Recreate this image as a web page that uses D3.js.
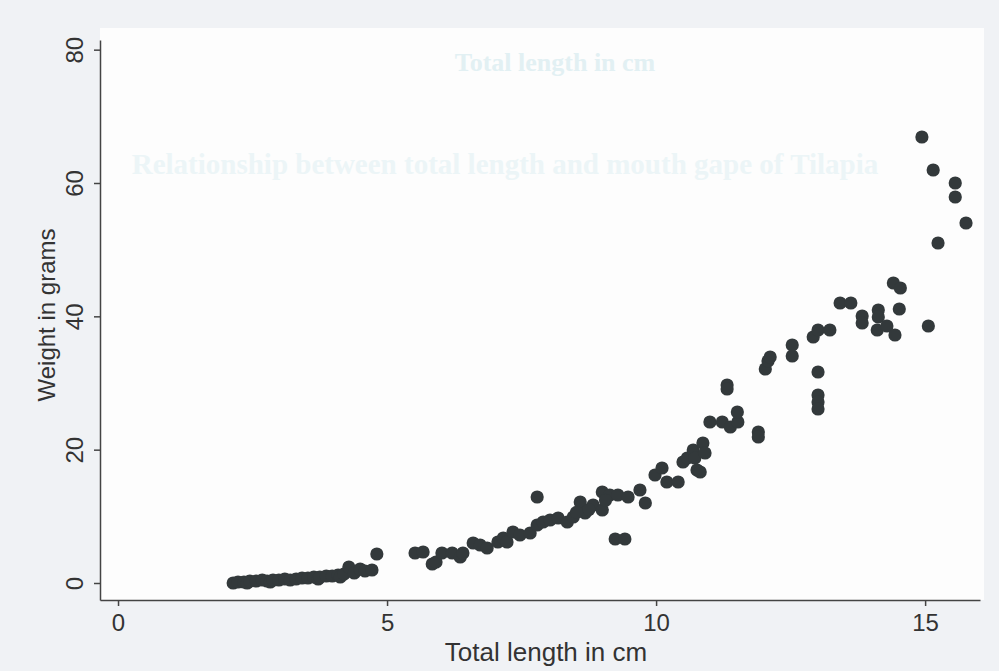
<!DOCTYPE html>
<html>
<head>
<meta charset="utf-8">
<script src="https://cdn.jsdelivr.net/npm/d3@7"></script>
<style>
  body { margin: 0; background: #f0f2f5; }
  svg { display: block; }
  text { font-family: "Liberation Sans", Arial, sans-serif; fill: #333; }
</style>
</head>
<body>
<svg width="999" height="671"></svg>
<script>
// total length (cm) and weight (g)
const lengthCm = [
  2.14, 2.23, 2.34, 2.40, 2.45, 2.57, 2.68, 2.77, 2.83, 2.88, 2.99, 3.10, 3.20, 3.31,
  3.42, 3.53, 3.64, 3.72, 3.75, 3.87, 3.98, 4.09, 4.13, 4.20, 4.29, 4.39, 4.50, 4.59,
  4.72, 4.81,
  5.52, 5.67, 5.84, 5.91, 6.02, 6.21, 6.36, 6.41, 6.60, 6.73, 6.86, 7.06, 7.16, 7.23,
  7.34, 7.47, 7.66, 7.79, 7.79, 7.90, 8.03, 8.18, 8.35, 8.46, 8.59, 8.68, 8.83, 9.00,
  9.00, 9.14, 9.29, 9.48, 9.70, 9.80, 9.24, 9.42, 8.75, 9.06, 8.52,
  9.98, 10.11, 10.20, 10.41, 10.50, 10.58, 10.69, 10.72, 10.76, 10.82, 10.87, 10.91,
  11.00, 11.23, 11.38, 11.52, 11.51, 11.32, 11.32, 11.90, 11.90,
  12.03, 12.08, 12.12, 12.53, 12.53, 13.01, 13.01, 13.01, 13.01, 12.92, 13.01, 13.23,
  13.42, 13.62, 13.83, 13.83, 14.13, 14.13, 14.11, 14.29, 14.44, 14.41, 14.54, 14.52,
  15.06, 14.94, 15.15, 15.56, 15.56, 15.76, 15.24
];
const weightG = [
  0.0, 0.15, 0.15, 0.0, 0.3, 0.3, 0.45, 0.3, 0.15, 0.45, 0.45, 0.6, 0.45, 0.6,
  0.75, 0.75, 0.9, 0.6, 0.9, 1.05, 1.05, 1.2, 0.9, 1.35, 2.4, 1.5, 2.1, 1.8,
  1.95, 4.35,
  4.5, 4.65, 2.85, 3.15, 4.5, 4.5, 3.9, 4.5, 6.0, 5.7, 5.25, 6.15, 6.75, 6.15,
  7.65, 7.2, 7.5, 8.7, 12.9, 9.15, 9.45, 9.75, 9.15, 9.9, 12.15, 10.5, 11.7, 13.65,
  10.95, 13.2, 13.2, 12.9, 13.95, 12.0, 6.6, 6.6, 11.0, 12.4, 10.6,
  16.2, 17.25, 15.15, 15.15, 18.15, 18.75, 19.95, 18.75, 16.95, 16.65, 21.0, 19.5,
  24.15, 24.15, 23.4, 24.15, 25.65, 29.7, 29.1, 22.65, 21.9,
  32.1, 33.3, 33.9, 35.7, 34.05, 31.65, 28.2, 27.15, 26.1, 36.9, 37.95, 37.95,
  42.0, 42.0, 40.05, 39.0, 40.95, 39.9, 37.95, 38.55, 37.2, 45.0, 44.25, 41.1,
  38.55, 66.9, 61.95, 60.0, 57.9, 54.0, 51.0
];
const xTicks = [0, 5, 10, 15];
const yTicks = [0, 20, 40, 60, 80];

const svg = d3.select("svg");
const mLeft = 100, mRight = 980, mTop = 40, mBottom = 600;

const x = d3.scaleLinear().domain([-0.335, 16.02]).range([mLeft, mRight]);
const y = d3.scaleLinear().domain([-2.55, 81.45]).range([mBottom, mTop]);

// white plot region of the scanned page
svg.append("rect")
  .attr("x", mLeft).attr("y", 28)
  .attr("width", mRight - mLeft + 4).attr("height", mBottom - 28)
  .attr("fill", "#fdfdfd");

// faint show-through text from the other side of the page
svg.append("text")
  .attr("x", 555).attr("y", 71)
  .attr("text-anchor", "middle")
  .style("font-family", "'Liberation Serif', serif")
  .style("font-weight", "bold")
  .style("font-size", "26px")
  .style("fill", "#e2f0f3")
  .text("Total length in cm");
svg.append("text")
  .attr("x", 505).attr("y", 174)
  .attr("text-anchor", "middle")
  .style("font-family", "'Liberation Serif', serif")
  .style("font-weight", "bold")
  .style("font-size", "29px")
  .style("fill", "#ecf5f7")
  .text("Relationship between total length and mouth gape of Tilapia");

const pts = lengthCm.map((d, i) => ({ x: d, y: weightG[i] }));
svg.append("g")
  .selectAll("circle")
  .data(pts)
  .join("circle")
  .attr("cx", d => x(d.x))
  .attr("cy", d => y(d.y))
  .attr("r", 6.6)
  .attr("fill", "#33393b");

const xAxis = svg.append("g")
  .attr("transform", `translate(0,${mBottom})`)
  .call(d3.axisBottom(x).tickValues(xTicks).tickSizeInner(6).tickSizeOuter(0).tickPadding(8));
const yAxis = svg.append("g")
  .attr("transform", `translate(${mLeft},0)`)
  .call(d3.axisLeft(y).tickValues(yTicks).tickSizeInner(6).tickSizeOuter(0));

[xAxis, yAxis].forEach(g => {
  g.select(".domain").attr("stroke", "#444").attr("stroke-width", 1.5);
  g.selectAll(".tick line").attr("stroke", "#444").attr("stroke-width", 1.5);
  g.selectAll(".tick text").style("font-size", "24px").style("fill", "#333");
});

// stata style: y labels turned to read upwards
yAxis.selectAll(".tick text")
  .attr("x", null).attr("dy", null)
  .attr("text-anchor", "middle")
  .attr("transform", "translate(-17,0) rotate(-90)");

xAxis.selectAll(".tick text").attr("dy", "0.71em");

svg.append("text")
  .attr("x", 546).attr("y", 661)
  .attr("text-anchor", "middle")
  .style("font-size", "26px")
  .text("Total length in cm");

svg.append("text")
  .attr("transform", `translate(55,315) rotate(-90)`)
  .attr("text-anchor", "middle")
  .style("font-size", "24px")
  .text("Weight in grams");
</script>
</body>
</html>
